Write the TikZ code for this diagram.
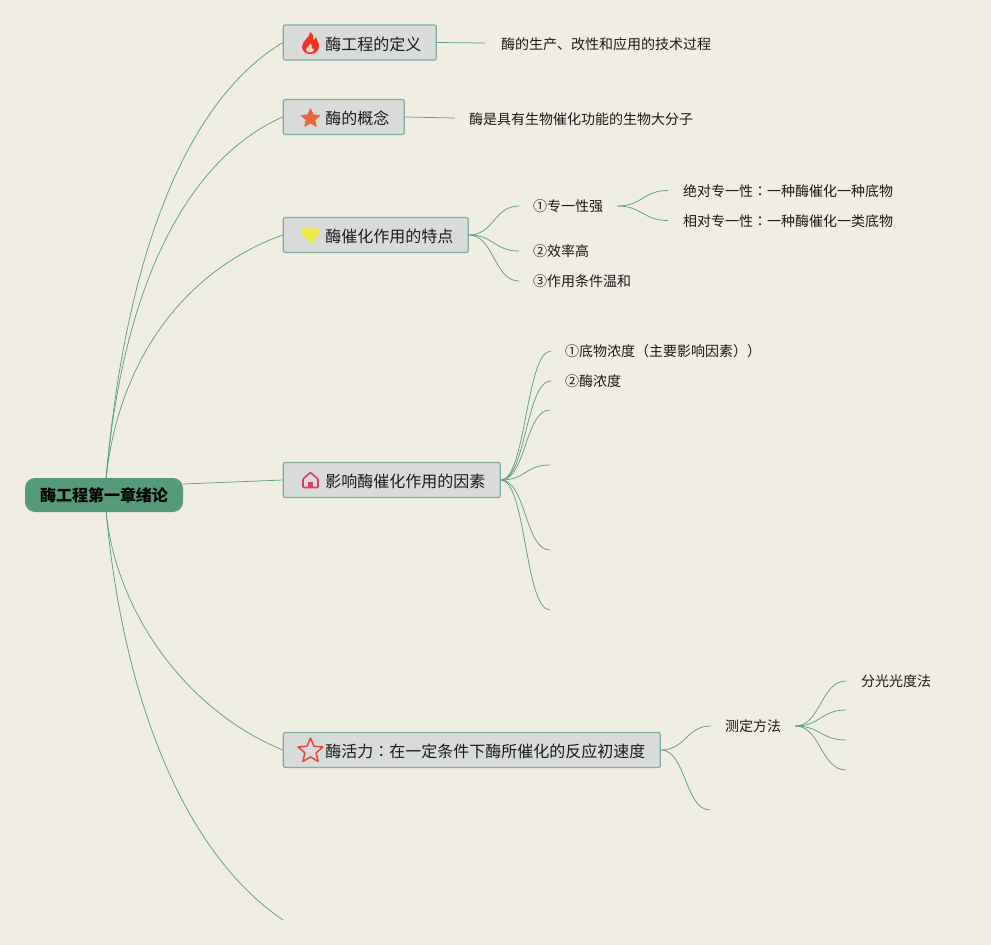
\documentclass[tikz,border=0pt]{standalone}
\usepackage{fontspec}
\setmainfont{Noto Sans CJK SC}
\newfontfamily\tcfont{Noto Sans CJK TC}
\usetikzlibrary{backgrounds,shapes.geometric}
\definecolor{pagebg}{HTML}{F0EDE3}
\definecolor{linkc}{HTML}{5F9F86}
\definecolor{rootc}{HTML}{559B79}
\definecolor{topicc}{HTML}{D9DBDA}
\definecolor{topicb}{HTML}{7FAE9E}
\definecolor{inkc}{HTML}{1A1A1A}
\definecolor{flamec}{HTML}{F4321E}
\definecolor{starc}{HTML}{E9683A}
\definecolor{gemc}{HTML}{EFE74E}
\definecolor{housec}{HTML}{DC3C64}
\definecolor{bigstarc}{HTML}{E8463C}
\newcommand\low[1]{\raisebox{-0.8pt}[\height][\depth]{#1}}
\newcommand\lowb[1]{\raisebox{-0.2pt}[\height][\depth]{#1}}
\newcommand\lowt[1]{\raisebox{-1.4pt}[\height][\depth]{#1}}
\newcommand\cln{{\tcfont ：}}
\tikzset{
 link/.style={draw=linkc,line width=0.75pt},
 rootnode/.style={fill=rootc,rounded corners=10pt,minimum width=158pt,minimum height=34pt,inner sep=0,font=\fontsize{16}{18}\selectfont\bfseries,text=black},
 topic/.style={anchor=west,fill=topicc,draw=topicb,line width=1.2pt,rounded corners=2pt,minimum height=35pt,inner sep=0,font=\fontsize{16}{18}\selectfont,text=inkc},
 leaf/.style={anchor=west,inner ysep=0,inner xsep=14pt,font=\fontsize{14}{16}\selectfont,text=inkc},
}
\begin{document}
\begin{tikzpicture}[x=1pt,y=-1pt]
\useasboundingbox (0,0) rectangle (991,945);
% root
\node[rootnode] (root) at (104,495) {\low{酶工程第一章绪论}};
% topics
\node[topic,minimum width=153pt] (t1) at (282.7,42.5) {\lowt{\kern42pt 酶工程的定义\kern15pt}};
\node[topic,minimum width=121pt] (t2) at (282.7,117) {\lowt{\kern42pt 酶的概念\kern15pt}};
\node[topic,minimum width=185pt] (t3) at (282.7,235) {\lowt{\kern42pt 酶催化作用的特点\kern15pt}};
\node[topic,minimum width=217pt] (t4) at (282.7,480) {\lowt{\kern42pt 影响酶催化作用的因素\kern15pt}};
\node[topic,minimum width=377pt] (t5) at (282.7,750) {\lowt{\kern42pt 酶活力\cln 在一定条件下酶所催化的反应初速度\kern15pt}};
\coordinate (t6) at (283,920);
% leaves
\node[leaf,inner xsep=16pt] (a1) at (485,43) {\low{酶的生产、改性和应用的技术过程}};
\node[leaf] (b1) at (455,118) {\low{酶是具有生物催化功能的生物大分子}};
\node[leaf] (c1) at (519,206) {\lowb{①专一性强}};
\node[leaf] (c2) at (519,251) {\lowb{②效率高}};
\node[leaf] (c3) at (519,281) {\lowb{③作用条件温和}};
\node[leaf,inner xsep=15pt] (c11) at (668,190.5) {\low{绝对专一性\cln 一种酶催化一种底物}};
\node[leaf,inner xsep=15pt] (c12) at (668,220.5) {\low{相对专一性\cln 一种酶催化一类底物}};
\node[leaf] (d1) at (551,351) {\lowb{①底物浓度（主要影响因素））}};
\node[leaf] (d2) at (551,381) {\lowb{②酶浓度}};
\coordinate (d3) at (550,410);
\coordinate (d4) at (550,465);
\coordinate (d5) at (550,550);
\coordinate (d6) at (550,610);
\node[leaf] (e1) at (711,726) {\lowb{测定方法}};
\coordinate (e2) at (710,810);
\node[leaf,inner xsep=15pt] (e11) at (846,681) {\lowb{分光光度法}};
\coordinate (e12) at (846,710);
\coordinate (e13) at (846,740);
\coordinate (e14) at (846,770);
% icons
\fill[flamec,even odd rule] (310,32) .. controls (311,37) and (302,40) .. (302,47) .. controls (302,51) and (306,54) .. (310,54) .. controls (315,54) and (319,51) .. (319,46) .. controls (319,42) and (316,40) .. (316,37) .. controls (315,39) and (314,40) .. (313,40) .. controls (314,37) and (313,34) .. (310,32) -- cycle
 (310,43) .. controls (310,46) and (306,47) .. (306,50) .. controls (306,51.5) and (308,52.5) .. (310,52.5) .. controls (313,52.5) and (315,50.5) .. (314,48) .. controls (313,49) and (312,49) .. (312,48) .. controls (312,46) and (312,44.5) .. (310,43) -- cycle;
\node[star,star points=5,star point ratio=2.2,fill=starc,draw=starc,line width=1.2pt,line join=round,minimum size=19pt,inner sep=0] (i2) at (310.5,118.5) {};
\fill[gemc,draw=gemc,line width=1pt,line join=round] (302.5,230) -- (306,227.5) -- (316,227.5) -- (319,230) -- (319,234) -- (311,243.5) -- (302.5,234) -- cycle;
\draw[housec,line width=1.6pt,line join=round,rounded corners=0.8pt] (303,479) -- (310.5,472.5) -- (318,479) -- (318,487.5) -- (303,487.5) -- cycle;
\fill[housec] (308,488) -- (308,482) -- (313,482) -- (313,488) -- cycle;
\node[star,star points=5,star point ratio=2.2,draw=bigstarc,line width=1.5pt,minimum size=26pt,inner sep=0,line join=round] (i5) at (310.5,751) {};
% connectors
\begin{scope}[on background layer]
\fill[pagebg] (0,0) rectangle (991,945);
\draw[link] (root.north) ++(2,2) .. controls (124,270) and (180,105) .. (t1.west);
\draw[link] (root.north) ++(2,2) .. controls (122,290) and (185,160) .. (t2.west);
\draw[link] (root.north) ++(2,2) .. controls (118,360) and (185,270) .. (t3.west);
\draw[link] (root.east) ++(0,-11) -- (t4.west);
\draw[link] (root.south) ++(2,-2) .. controls (115,610) and (185,710) .. (t5.west);
\draw[link] (root.south) ++(2,-2) .. controls (122,690) and (180,850) .. (t6);
\draw[link] (t1.east) -- (a1.west);
\draw[link] (t2.east) -- (b1.west);
\foreach \k in {c1,c2,c3}{\draw[link] (t3.east) .. controls +(25,0) and +(-25,0) .. (\k.west);}
\foreach \k in {c11,c12}{\draw[link] (c1.east) .. controls +(25,0) and +(-25,0) .. (\k.west);}
\foreach \k in {d1,d2,d3,d4,d5,d6}{\draw[link] (t4.east) .. controls +(25,0) and +(-25,0) .. (\k.west);}
\foreach \k in {e1,e2}{\draw[link] (t5.east) .. controls +(25,0) and +(-25,0) .. (\k.west);}
\foreach \k in {e11,e12,e13,e14}{\draw[link] (e1.east) .. controls +(25,0) and +(-25,0) .. (\k.west);}
\end{scope}
\end{tikzpicture}
\end{document}
